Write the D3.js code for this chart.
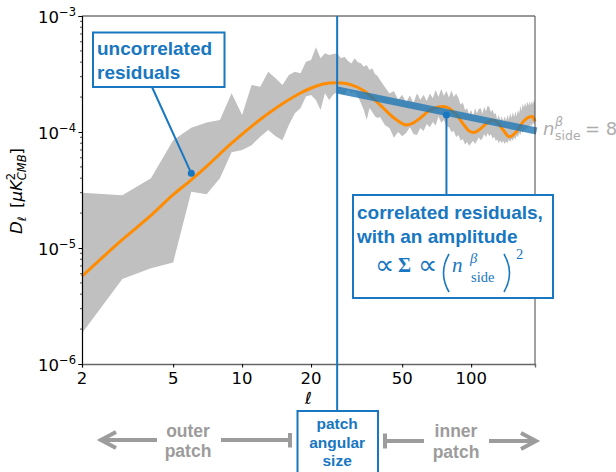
<!DOCTYPE html>
<html>
<head>
<meta charset="utf-8">
<script src="https://cdn.jsdelivr.net/npm/d3@7"></script>
<style>
  body { margin: 0; background: #fff; }
  svg { display: block; }
</style>
</head>
<body>
<svg id="chart" width="616" height="472"></svg>
<script>
// Angular power spectrum of the residuals, D_ell in uK^2 (values below in units of 1e-5 uK^2)
const UNIT = 1e-5;

const ellBand = [2,3,4,5,6,7,8,9,10,11,12,13,14,15,16,17,18,19,20,21,22,23,24,25,26,27,28,29,30,31,32,33,34,35,36,37,38,39,40,
  42,44,46,48,50,52,54,56,58,60,62,64,66,68,70,72,74,76,78,80,82,84,86,88,90,92,94,96,98,100,
  102,104,106,108,110,112,114,116,118,120,122,124,126,128,130,132,134,136,138,140,
  142,144,146,148,150,152,154,156,158,160,162,164,166,168,170,172,174,176,178,180,182,184,186,188,190];

const bandUpper = [3.0,2.85,4.0,8.5,10.9,12.1,12.7,21.6,14.0,25.4,
  24.6,33.1,29.0,25.4,31.0,33.1,32.1,40.4,41.8,53.7,
  43.2,47.7,46.1,47.0,47.7,43.2,44.5,41.0,39.0,43.2,
  40.0,39.1,36.5,37.8,34.3,35.5,31.6,30.5,28.1,
  24.4,21.5,22.6,19.0,20.9,18.0,20.6,17.8,21.6,19.0,
  20.9,18.5,21.5,19.5,23.0,20.0,23.5,20.5,22.6,19.8,
  22.8,20.0,21.5,19.6,17.2,18.0,15.5,16.0,14.2,15.5,
  13.8,16.0,14.5,15.8,16.0,14.4,16.5,15.0,16.8,16.4,
  14.8,15.6,14.2,14.6,12.8,14.0,12.6,13.7,12.4,13.6,
  12.5,14.0,12.8,14.5,13.2,14.8,13.4,15.0,13.6,15.5,
  14.4,16.8,15.2,17.6,16.2,17.9,16.5,18.2,16.9,18.3,
  17.0,18.6,17.2,18.9,17.8];

const bandLower = [0.184,0.54,0.67,0.75,3.06,2.9,4.0,6.7,7.0,7.7,
  9.1,10.4,9.2,8.5,11.5,14.5,16.1,20.2,20.8,18.9,
  15.5,21.6,18.9,21.0,22.0,21.5,21.0,23.5,21.7,22.1,
  20.4,17.8,15.5,12.7,16.1,14.9,13.7,13.2,13.5,
  11.5,10.8,8.9,10.0,9.2,9.8,11.0,9.6,9.4,10.8,
  10.2,11.7,11.0,12.2,11.4,13.7,12.0,12.7,11.2,11.0,
  10.0,10.2,9.0,9.4,8.4,8.7,7.8,8.2,7.6,8.0,
  8.4,7.9,8.4,9.0,8.5,8.8,9.6,9.0,9.8,9.2,
  9.6,8.8,9.1,8.4,8.6,8.0,8.5,8.0,8.4,7.9,
  8.3,8.0,8.6,8.2,8.7,8.4,9.0,8.6,9.4,9.0,
  9.8,9.4,10.2,9.8,10.6,10.2,11.0,10.6,11.4,11.0,
  11.6,11.2,12.0,11.6,12.2];

// smooth model spectrum
const ellModel = [2,3,4,5,6,7,9,12,15,18,21,24,26,28,30,34,40,47,52,56,
  60,66,72,76,81,87,93,98,103,108,117,124,130,138,147,158,169,178,185,190];
const modelDl = [0.57,1.18,1.91,2.88,3.87,5.06,8.0,12.8,17.5,21.7,
  24.8,26.4,26.6,26.3,25.5,22.7,17.1,12.8,11.5,12.0,
  13.2,15.4,16.4,16.6,15.8,13.8,11.5,10.2,9.9,10.4,
  11.9,12.7,12.1,10.4,9.1,10.1,12.3,13.4,13.6,12.4];

// power-law trend of the correlated residuals
const ellTrend = [26, 193];
const trendDl = [23.0, 10.2];

// annotated points
const patchEll = 26;
const uncorrPoint = { ell: 6, dl: 4.4 };
const corrPoint = { ell: 78, dl: 14.0 };

const xTicks = [2, 5, 10, 20, 50, 100];
const yTickExps = [-6, -5, -4, -3];

const svg = d3.select("#chart");
const L = 82, R = 535, T = 16, B = 364;

const x = d3.scaleLog().domain([2, 190]).range([L, R]);
const y = d3.scaleLog().domain([1e-6, 1e-3]).range([B, T]);

const BLUE = "#1877c0";
const GREY = "#9c9c9c";

// grey scatter band
const bandData = ellBand.map((e, i) => ({ e, lo: bandLower[i] * UNIT, hi: bandUpper[i] * UNIT }));
svg.append("path")
  .datum(bandData)
  .attr("d", d3.area().x(d => x(d.e)).y0(d => y(d.lo)).y1(d => y(d.hi)))
  .attr("fill", "#c0c0c0");

// model curve
const modelData = ellModel.map((e, i) => ({ e, v: modelDl[i] * UNIT }));
svg.append("path")
  .datum(modelData)
  .attr("d", d3.line().x(d => x(d.e)).y(d => y(d.v)).curve(d3.curveMonotoneX))
  .attr("fill", "none")
  .attr("stroke", "#ff8c00")
  .attr("stroke-width", 3);

// trend line
const trendData = ellTrend.map((e, i) => ({ e, v: trendDl[i] * UNIT }));
svg.append("path")
  .datum(trendData)
  .attr("d", d3.line().x(d => x(d.e)).y(d => y(d.v)))
  .attr("fill", "none")
  .attr("stroke", "#1f77b4")
  .attr("stroke-opacity", 0.8)
  .attr("stroke-width", 7);

// axes frame
svg.append("line").attr("x1", L).attr("x2", R).attr("y1", T).attr("y2", T).attr("stroke", "#333").attr("stroke-width", 1);
svg.append("line").attr("x1", R).attr("x2", R).attr("y1", T).attr("y2", B).attr("stroke", "#444").attr("stroke-width", 1);

const yAxis = d3.axisLeft(y)
  .tickValues(yTickExps.map(p => Math.pow(10, p)))
  .tickSize(3.5)
  .tickFormat("");
const gy = svg.append("g").attr("transform", `translate(${L},0)`).call(yAxis);
gy.select(".domain").attr("stroke", "#000").attr("stroke-width", 1.2);
gy.selectAll(".tick line").attr("stroke", "#000");

// minor log ticks
const minor = [];
for (let p = -6; p < -3; p++) for (let k = 2; k <= 9; k++) minor.push(k * Math.pow(10, p));
svg.append("g").selectAll("line").data(minor).join("line")
  .attr("x1", L - 2).attr("x2", L)
  .attr("y1", d => y(d)).attr("y2", d => y(d))
  .attr("stroke", "#000").attr("stroke-width", 0.7);

// y tick labels 10^p
yTickExps.forEach(p => {
  const t = svg.append("text")
    .attr("x", 76).attr("y", y(Math.pow(10, p)) + 7)
    .attr("text-anchor", "end")
    .attr("font-family", "DejaVu Sans")
    .attr("font-size", 16.5)
    .attr("fill", "#000");
  t.append("tspan").text("10");
  t.append("tspan").attr("font-size", 11.5).attr("dy", -7).text("\u2212" + Math.abs(p));
});

const xAxis = d3.axisBottom(x).tickValues(xTicks).tickSize(3.5).tickFormat("");
const gx = svg.append("g").attr("transform", `translate(0,${B})`).call(xAxis);
gx.select(".domain").attr("stroke", "#666").attr("stroke-width", 1.4);
gx.selectAll(".tick line").attr("stroke", "#000");
svg.append("g").selectAll("text").data(xTicks).join("text")
  .attr("x", d => x(d)).attr("y", 383.5)
  .attr("text-anchor", "middle")
  .attr("font-family", "DejaVu Sans").attr("font-size", 16.5)
  .attr("fill", "#000")
  .text(d => d);

// x label
svg.append("text")
  .attr("x", (L + R) / 2).attr("y", 404)
  .attr("text-anchor", "middle")
  .attr("font-family", "DejaVu Sans").attr("font-style", "italic").attr("font-size", 16.5)
  .text("\u2113");

// y label: D_ell [uK^2_CMB]
const yl = svg.append("g").attr("transform", "translate(22,191) rotate(-90)");
const ylt = yl.append("text").attr("font-family", "DejaVu Sans").attr("font-size", 16.5).attr("fill", "#000");
ylt.append("tspan").attr("font-style", "italic").text("D");
ylt.append("tspan").attr("font-style", "italic").attr("font-size", 11.5).attr("dy", 3.5).text("\u2113");
ylt.append("tspan").attr("dy", -3.5).text("\u2009 [");
ylt.append("tspan").attr("font-style", "italic").text("\u03bcK");
const sup2 = ylt.append("tspan").attr("font-size", 11.5).attr("dy", -7).text("2");
const supW = sup2.node().getComputedTextLength();
ylt.append("tspan").attr("font-style", "italic").attr("font-size", 11.5).attr("dx", -supW).attr("dy", 11).text("CMB");
ylt.append("tspan").attr("dy", -4).text("]");
const ybb = ylt.node().getBBox();
ylt.attr("x", -ybb.width / 2 - ybb.x);

// patch angular size marker
const px = x(patchEll);
svg.append("line").attr("x1", px).attr("x2", px).attr("y1", T).attr("y2", 411)
  .attr("stroke", BLUE).attr("stroke-width", 2);

// annotation: uncorrelated residuals
const ux = x(uncorrPoint.ell), uy = y(uncorrPoint.dl * UNIT);
svg.append("line").attr("x1", 152).attr("y1", 87).attr("x2", ux).attr("y2", uy)
  .attr("stroke", BLUE).attr("stroke-width", 2);
svg.append("circle").attr("cx", ux).attr("cy", uy).attr("r", 3.5).attr("fill", BLUE);
svg.append("rect").attr("x", 93).attr("y", 32.5).attr("width", 131.5).attr("height", 54.5)
  .attr("fill", "#fff").attr("stroke", BLUE).attr("stroke-width", 2);
const boxFont = "Liberation Sans, Arial, sans-serif";
[["uncorrelated", 55], ["residuals", 79]].forEach(([s, by]) => {
  svg.append("text").attr("x", 97).attr("y", by)
    .attr("font-family", boxFont).attr("font-weight", "bold").attr("font-size", 19)
    .attr("fill", BLUE).text(s);
});

// annotation: correlated residuals
const cx = x(corrPoint.ell), cy = y(corrPoint.dl * UNIT);
svg.append("line").attr("x1", cx).attr("y1", cy).attr("x2", cx).attr("y2", 195)
  .attr("stroke", BLUE).attr("stroke-width", 2);
svg.append("circle").attr("cx", cx).attr("cy", cy).attr("r", 3.5).attr("fill", BLUE);
svg.append("rect").attr("x", 353).attr("y", 195).attr("width", 200).attr("height", 103)
  .attr("fill", "#fff").attr("stroke", BLUE).attr("stroke-width", 2);
[["correlated residuals,", 218.5], ["with an amplitude", 242.5]].forEach(([s, by]) => {
  svg.append("text").attr("x", 357).attr("y", by)
    .attr("font-family", boxFont).attr("font-weight", "bold").attr("font-size", 19)
    .attr("fill", BLUE).text(s);
});
// math line: ∝ Σ ∝ (n^β_side)^2
const serif = "Liberation Serif, DejaVu Serif, serif";
const mathBase = 272;
const m = svg.append("g").attr("fill", BLUE).attr("font-family", serif);
m.append("text").attr("x", 375).attr("y", mathBase + 2).attr("font-family", "DejaVu Sans").attr("font-size", 27).attr("font-weight", 300).text("\u221d");
m.append("text").attr("x", 398).attr("y", mathBase).attr("font-size", 20).attr("font-weight", "bold").text("\u03a3");
m.append("text").attr("x", 418).attr("y", mathBase + 2).attr("font-family", "DejaVu Sans").attr("font-size", 27).attr("font-weight", 300).text("\u221d");
m.append("text").attr("x", 452).attr("y", mathBase).attr("font-size", 21).attr("font-style", "italic").text("n");
m.append("text").attr("x", 470).attr("y", mathBase - 9).attr("font-size", 14.5).attr("font-style", "italic").text("\u03b2");
m.append("text").attr("x", 471).attr("y", mathBase + 10).attr("font-size", 14.5).text("side");
m.append("text").attr("x", 516).attr("y", mathBase - 13).attr("font-size", 14.5).text("2");
// tall parentheses
m.append("path").attr("d", "M449,254 Q438,273 449,292").attr("fill", "none").attr("stroke", BLUE).attr("stroke-width", 1.6);
m.append("path").attr("d", "M504,254 Q515,273 504,292").attr("fill", "none").attr("stroke", BLUE).attr("stroke-width", 1.6);

// annotation: patch angular size
svg.append("rect").attr("x", 297.5).attr("y", 411).attr("width", 80.5).attr("height", 80)
  .attr("fill", "#fff").attr("stroke", BLUE).attr("stroke-width", 2);
[["patch", 429], ["angular", 447.5], ["size", 466]].forEach(([s, by]) => {
  svg.append("text").attr("x", px).attr("y", by).attr("text-anchor", "middle")
    .attr("font-family", boxFont).attr("font-weight", "bold").attr("font-size", 15.5)
    .attr("fill", BLUE).text(s);
});

// outer / inner patch arrows
const ar = svg.append("g").attr("stroke", GREY).attr("stroke-width", 4).attr("fill", "none");
ar.append("line").attr("x1", 100).attr("x2", 157).attr("y1", 440).attr("y2", 440);
ar.append("polyline").attr("points", "116,432 101,440 116,448").attr("stroke-linejoin", "miter");
ar.append("line").attr("x1", 221).attr("x2", 290).attr("y1", 440).attr("y2", 440);
ar.append("line").attr("x1", 290).attr("x2", 290).attr("y1", 433).attr("y2", 447.5);
ar.append("line").attr("x1", 385).attr("x2", 385).attr("y1", 433.5).attr("y2", 448.5);
ar.append("line").attr("x1", 385).attr("x2", 424).attr("y1", 441).attr("y2", 441);
ar.append("line").attr("x1", 489).attr("x2", 536).attr("y1", 441).attr("y2", 441);
ar.append("polyline").attr("points", "521,433 536,441 521,449").attr("stroke-linejoin", "miter");
[["outer", 188, 437], ["patch", 188, 457], ["inner", 456, 437], ["patch", 456, 457.5]].forEach(([s, cxp, by]) => {
  svg.append("text").attr("x", cxp).attr("y", by).attr("text-anchor", "middle")
    .attr("font-family", boxFont).attr("font-weight", "bold").attr("font-size", 17.5)
    .attr("fill", GREY).text(s);
});

// n_side label
const ns = svg.append("g").attr("fill", "#adadad").attr("font-family", "DejaVu Sans");
ns.append("text").attr("x", 543).attr("y", 135).attr("font-size", 18).attr("font-style", "italic").text("n");
ns.append("text").attr("x", 555).attr("y", 126).attr("font-size", 12.5).attr("font-style", "italic").text("\u03b2");
ns.append("text").attr("x", 555).attr("y", 139.5).attr("font-size", 12.5).text("side");
ns.append("text").attr("x", 585).attr("y", 135).attr("font-size", 18).text("= 8");
</script>
</body>
</html>
